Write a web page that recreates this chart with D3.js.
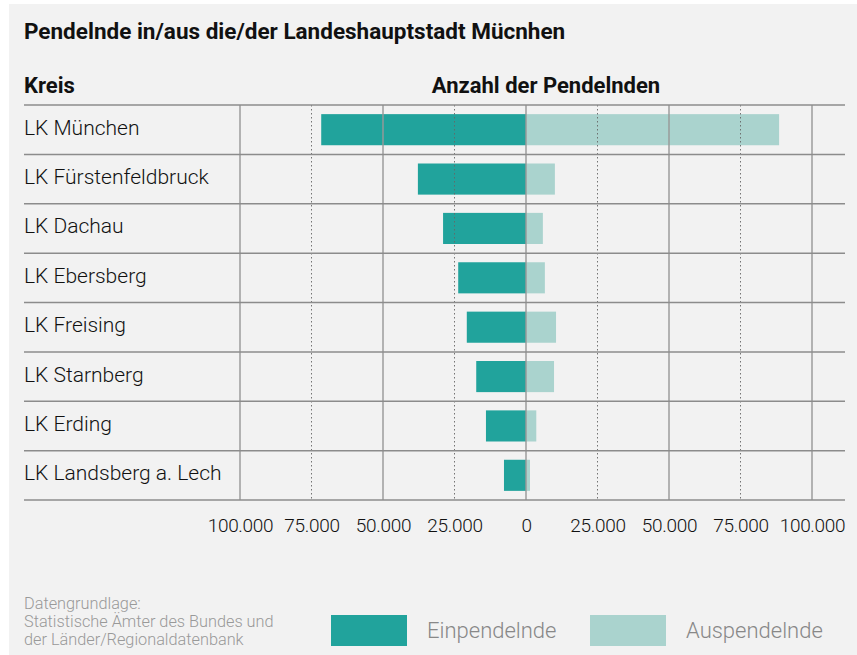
<!DOCTYPE html>
<html>
<head>
<meta charset="utf-8">
<script src="https://cdn.jsdelivr.net/npm/d3@7"></script>
<style>
  body { margin: 0; background: #fff; }
  svg { display: block; font-family: Roboto, "Noto Sans", sans-serif; }
</style>
</head>
<body>
<div id="chart"></div>
<script>
// data
const kreise = ["LK München", "LK Fürstenfeldbruck", "LK Dachau", "LK Ebersberg",
  "LK Freising", "LK Starnberg", "LK Erding", "LK Landsberg a. Lech"];
const einpendelnde = [71600, 37800, 29000, 23700, 20700, 17400, 14000, 7700];
const auspendelnde = [88500, 10100, 5900, 6600, 10500, 9800, 3600, 1400];
const tickValues = [-100000, -75000, -50000, -25000, 0, 25000, 50000, 75000, 100000];

const width = 857, height = 655;
const dark = "#21a39c", light = "#aad3ce";

const svg = d3.select("#chart").append("svg")
  .attr("width", width)
  .attr("height", height);

// panel background
svg.append("rect")
  .attr("x", 9).attr("y", 4)
  .attr("width", width - 9).attr("height", height - 4)
  .attr("fill", "#f2f2f2");

const x = d3.scaleLinear().domain([-100000, 100000]).range([240, 812]);
const y = d3.scaleBand().domain(kreise).range([105, 500]).padding(0);

// titles
svg.append("text")
  .attr("x", 24).attr("y", 39)
  .attr("font-size", 22.5).attr("font-weight", "bold").attr("fill", "#111")
  .text("Pendelnde in/aus die/der Landeshauptstadt Mücnhen");

svg.append("text")
  .attr("x", 24).attr("y", 93)
  .attr("font-size", 22).attr("font-weight", "bold").attr("fill", "#111")
  .text("Kreis");

svg.append("text")
  .attr("x", 546).attr("y", 93)
  .attr("text-anchor", "middle")
  .attr("font-size", 22).attr("font-weight", "bold").attr("fill", "#111")
  .text("Anzahl der Pendelnden");

// bars
const barH = y.bandwidth() * 0.63;
const barOff = (y.bandwidth() - barH) / 2;

svg.selectAll(".ein")
  .data(kreise)
  .enter().append("rect")
  .attr("class", "ein")
  .attr("x", (d, i) => x(-einpendelnde[i]))
  .attr("y", d => y(d) + barOff)
  .attr("width", (d, i) => x(0) - x(-einpendelnde[i]))
  .attr("height", barH)
  .attr("fill", dark);

svg.selectAll(".aus")
  .data(kreise)
  .enter().append("rect")
  .attr("class", "aus")
  .attr("x", x(0))
  .attr("y", d => y(d) + barOff)
  .attr("width", (d, i) => x(auspendelnde[i]) - x(0))
  .attr("height", barH)
  .attr("fill", light);

// vertical grid, on top of the bars
svg.selectAll(".grid")
  .data(tickValues)
  .enter().append("line")
  .attr("class", "grid")
  .attr("x1", d => x(d)).attr("x2", d => x(d))
  .attr("y1", 105).attr("y2", 500)
  .attr("stroke", d => d % 50000 === 0 ? "#999" : "#666")
  .attr("stroke-opacity", d => d % 50000 === 0 ? 0.8 : 0.9)
  .attr("stroke-width", d => d % 50000 === 0 ? 1.8 : 1)
  .attr("stroke-dasharray", d => d % 50000 === 0 ? null : "1.5,2.5");

// row separators
const rowLines = y.domain().map(d => y(d)).concat([500]);
svg.selectAll(".row")
  .data(rowLines)
  .enter().append("line")
  .attr("class", "row")
  .attr("x1", 24).attr("x2", 845)
  .attr("y1", d => d).attr("y2", d => d)
  .attr("stroke", "#8c8c8c")
  .attr("stroke-width", 1.5);

// category labels
svg.selectAll(".cat")
  .data(kreise)
  .enter().append("text")
  .attr("class", "cat")
  .attr("x", 24)
  .attr("y", d => y(d) + y.bandwidth() / 2 + 5)
  .attr("font-size", 21).attr("font-weight", 300).attr("fill", "#111")
  .text(d => d);

// x axis labels
const fmt = v => d3.format(",")(Math.abs(v)).replace(/,/g, ".");
const xAxis = d3.axisBottom(x).tickValues(tickValues).tickFormat(fmt).tickSize(0).tickPadding(0);
const ax = svg.append("g")
  .attr("transform", "translate(0,518)")
  .call(xAxis);
ax.select(".domain").remove();
ax.selectAll("text")
  .attr("dy", 0).attr("y", 13.5)
  .attr("font-family", "Roboto, sans-serif")
  .attr("font-size", 19).attr("font-weight", 300)
  .attr("letter-spacing", -0.3)
  .attr("fill", "#111");

// source note
const source = ["Datengrundlage:", "Statistische Ämter des Bundes und", "der Länder/Regionaldatenbank"];
svg.selectAll(".src")
  .data(source)
  .enter().append("text")
  .attr("class", "src")
  .attr("x", 24)
  .attr("y", (d, i) => 609 + i * 18)
  .attr("font-size", 16.3).attr("font-weight", 300).attr("fill", "#999")
  .text(d => d);

// legend
const legend = [
  { label: "Einpendelnde", color: dark, x: 331 },
  { label: "Auspendelnde", color: light, x: 590 }
];
const lg = svg.selectAll(".legend")
  .data(legend)
  .enter().append("g")
  .attr("class", "legend")
  .attr("transform", d => `translate(${d.x},615)`);
lg.append("rect")
  .attr("width", 76).attr("height", 31)
  .attr("fill", d => d.color);
lg.append("text")
  .attr("x", 96).attr("y", 23)
  .attr("font-size", 22).attr("font-weight", 300).attr("fill", "#888")
  .text(d => d.label);
</script>
</body>
</html>
